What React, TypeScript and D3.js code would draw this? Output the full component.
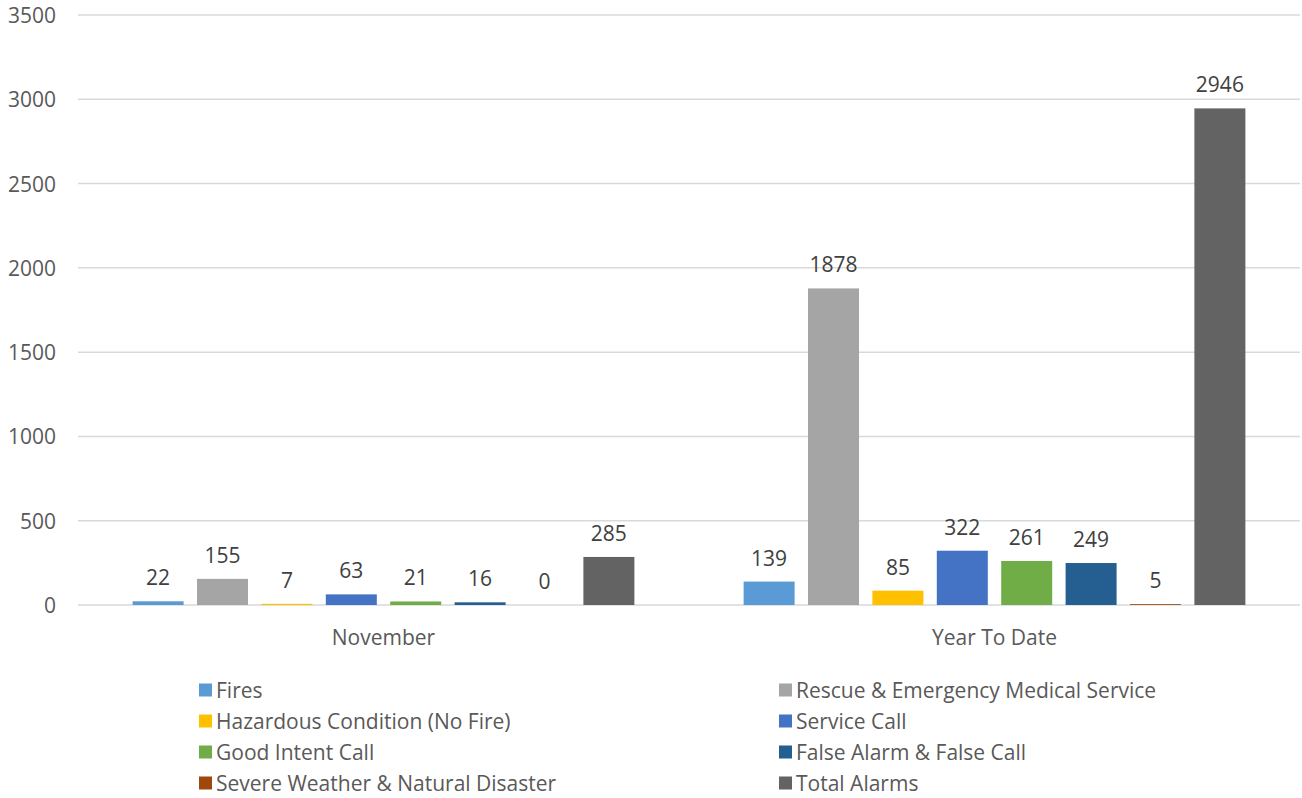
import React from "react";
import * as d3 from "d3";

const categories = ["November", "Year To Date"];
const seriesNames = [
  "Fires",
  "Rescue & Emergency Medical Service",
  "Hazardous Condition (No Fire)",
  "Service Call",
  "Good Intent Call",
  "False Alarm & False Call",
  "Severe Weather & Natural Disaster",
  "Total Alarms",
];
const seriesColors = ["#5B9BD5", "#A5A5A5", "#FFC000", "#4472C4", "#70AD47", "#255E91", "#9E480E", "#636363"];
const novemberValues = [22, 155, 7, 63, 21, 16, 0, 285];
const ytdValues = [139, 1878, 85, 322, 261, 249, 5, 2946];
const yTicks = [0, 500, 1000, 1500, 2000, 2500, 3000, 3500];

const W = 1302;
const H = 798;
const FONT = "'Open Sans', Lato, sans-serif";
const FS = 21;

export default function App() {
  const left = 78;
  const right = 1300;
  const top = 15;
  const bottom = 605;
  const values = [novemberValues, ytdValues];

  const x0 = d3.scaleBand<string>().domain(categories).range([left, right]).padding(0);
  const x1 = d3
    .scaleBand<string>()
    .domain(seriesNames)
    .range([0, x0.bandwidth()])
    .paddingInner(0.208)
    .paddingOuter(0.848);
  const y = d3.scaleLinear().domain([0, 3500]).range([bottom, top]);

  return (
    <svg width={W} height={H} style={{ position: "absolute", left: 0, top: 0 }} fontFamily={FONT}>
      <rect x={0} y={0} width={W} height={H} fill="#fff" />
      {yTicks.map((t) => (
        <g key={t}>
          <line x1={left} x2={right} y1={y(t)} y2={y(t)} stroke="#D9D9D9" strokeWidth={1.5} />
          <text x={56} y={y(t)} dy="0.38em" textAnchor="end" fontSize={FS} fill="#595959">
            {t}
          </text>
        </g>
      ))}
      {categories.map((c, ci) => (
        <g key={c}>
          {seriesNames.map((s, si) => {
            const v = values[ci][si];
            const bx = (x0(c) as number) + (x1(s) as number);
            const bw = x1.bandwidth();
            return (
              <g key={s}>
                <rect x={bx} y={y(v)} width={bw} height={bottom - y(v)} fill={seriesColors[si]} />
                <text x={bx + bw / 2} y={y(v) - 16} textAnchor="middle" fontSize={FS} fill="#404040">
                  {v}
                </text>
              </g>
            );
          })}
          <text
            x={(x0(c) as number) + x0.bandwidth() / 2}
            y={637}
            dy="0.38em"
            textAnchor="middle"
            fontSize={FS}
            fill="#595959"
          >
            {c}
          </text>
        </g>
      ))}
      {seriesNames.map((s, i) => {
        const col = i % 2;
        const row = Math.floor(i / 2);
        const lx = col === 0 ? 199 : 779;
        const ly = 690 + row * 31;
        return (
          <g key={s}>
            <rect x={lx} y={ly - 6.5} width={13} height={13} fill={seriesColors[i]} />
            <text x={lx + 17} y={ly} dy="0.38em" fontSize={FS} fill="#595959">
              {s}
            </text>
          </g>
        );
      })}
    </svg>
  );
}
